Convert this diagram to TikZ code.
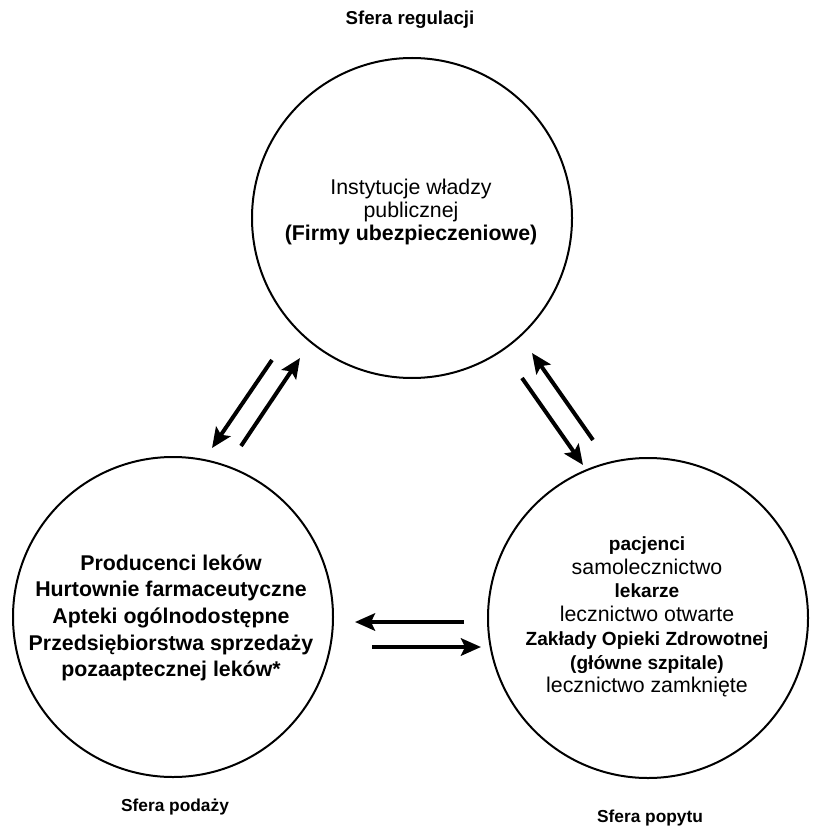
\documentclass[tikz,border=0pt]{standalone}
\usepackage{fontspec}
\setmainfont{Liberation Sans}
\usetikzlibrary{arrows.meta}
\newcommand{\bsm}{\bfseries\fontsize{14.3}{17.8}\selectfont}
\begin{document}
\begin{tikzpicture}[x=0.75pt,y=-0.75pt,
  sphere/.style={circle,draw,line width=1.5pt,minimum size=240pt,inner sep=0pt},
  txt/.style={align=center,font=\fontsize{16}{17.5}\selectfont},
  lbl/.style={font=\bfseries\fontsize{13}{15}\selectfont},
  flow/.style={line width=3pt,-{Stealth[length=15pt,width=13pt,inset=3pt]}}]
\useasboundingbox (0,0) rectangle (829,834);
\node[sphere] (reg) at (412,218) {};
\node[sphere] (sup) at (173,617) {};
\node[sphere] (dem) at (648,618) {};
\node[txt] (regt) at (411,212) {Instytucje władzy\\publicznej\\\textbf{(Firmy ubezpieczeniowe)}};
\node[txt,font=\bfseries\fontsize{16}{20}\selectfont] (supt) at (171,618) {Producenci leków\\Hurtownie farmaceutyczne\\Apteki ogólnodostępne\\Przedsiębiorstwa sprzedaży\\pozaaptecznej leków*};
\node[txt,font=\fontsize{16}{17.8}\selectfont] (demt) at (647,617) {{\bsm pacjenci}\\samolecznictwo\\{\bsm lekarze}\\lecznictwo otwarte\\{\bsm Zakłady Opieki Zdrowotnej}\\{\bsm (główne szpitale)}\\lecznictwo zamknięte};
\node[lbl,font=\bfseries\fontsize{14}{15}\selectfont] (regl) at (410,20) {Sfera regulacji};
\node[lbl] (supl) at (175,807) {Sfera podaży};
\node[lbl] (deml) at (650,818) {Sfera popytu};
% arrow end points
\coordinate (l1s) at (272,360); \coordinate (l1e) at (212,448);
\coordinate (l2s) at (241,446); \coordinate (l2e) at (300,358);
\coordinate (r1s) at (593,440); \coordinate (r1e) at (532,353);
\coordinate (r2s) at (522,378); \coordinate (r2e) at (583,465);
\coordinate (h1s) at (464,622); \coordinate (h1e) at (355,622);
\coordinate (h2s) at (372,647); \coordinate (h2e) at (481,647);
\draw[flow] (l1s) -- (l1e);
\draw[flow] (l2s) -- (l2e);
\draw[flow] (r1s) -- (r1e);
\draw[flow] (r2s) -- (r2e);
\draw[flow] (h1s) -- (h1e);
\draw[flow] (h2s) -- (h2e);
\end{tikzpicture}
\end{document}
